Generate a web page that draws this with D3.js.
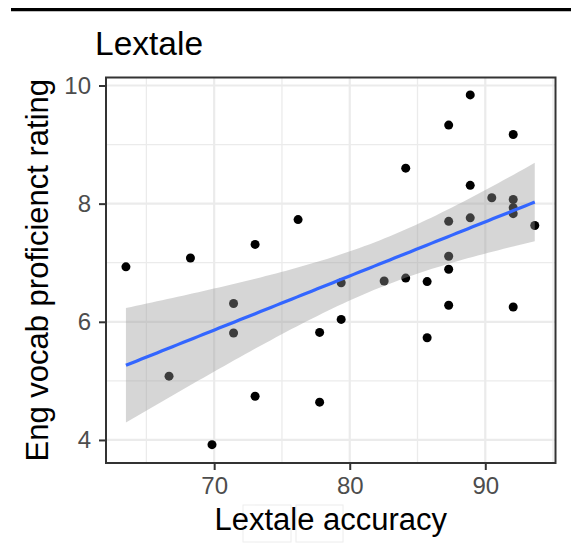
<!DOCTYPE html>
<html><head><meta charset="utf-8">
<script src="https://cdn.jsdelivr.net/npm/d3@7"></script>
<style>body{margin:0;background:#fff}svg{display:block}text{font-family:"Liberation Sans",Arial,Helvetica,sans-serif}</style>
</head><body><div id="chart"></div>
<script>
// Data
const lextaleAccuracy = [63.49,68.25,73.02,76.19,71.43,71.43,66.67,73.02,77.78,69.84,77.78,79.37,79.37,82.54,84.13,85.71,87.30,87.30,87.30,85.71,92.06,88.89,87.30,92.06,84.13,88.89,90.48,92.06,92.06,92.06,93.65,87.30,88.89];
const vocabRating    = [6.93,7.08,7.31,7.73,6.31,5.81,5.08,4.74,4.64,3.92,5.82,6.66,6.04,6.69,6.74,6.68,7.11,6.89,6.28,5.73,6.25,9.84,9.33,9.17,8.60,8.31,8.10,8.07,7.93,7.83,7.63,7.70,7.76];
const xTicks = [70,80,90];
const yTicks = [4,6,8,10];
const xMinor = [65,75,85,95];
const yMinor = [5,7,9];
const titleText = "Lextale";
const xTitle = "Lextale accuracy";
const yTitle = "Eng vocab proficienct rating";

const W = 571, H = 552;
const P = {left:106, right:555.5, top:77.5, bottom:463};
const svg = d3.select("#chart").append("svg").attr("width",W).attr("height",H);

const x = d3.scaleLinear().domain([62.02,95.18]).range([P.left,P.right]);
const y = d3.scaleLinear().domain([3.61,10.135]).range([P.bottom,P.top]);

// top rule
svg.append("line").attr("x1",11).attr("x2",W).attr("y1",9.7).attr("y2",9.7).attr("stroke","#000").attr("stroke-width",3.2);

// panel bg
svg.append("rect").attr("x",P.left).attr("y",P.top).attr("width",P.right-P.left).attr("height",P.bottom-P.top).attr("fill","#fff");

const g = svg.append("g");
// minor grid
g.selectAll(".vx").data(xMinor).join("line").attr("x1",d=>x(d)).attr("x2",d=>x(d)).attr("y1",P.top).attr("y2",P.bottom).attr("stroke","#ebebeb").attr("stroke-width",1.3);
g.selectAll(".hy").data(yMinor).join("line").attr("y1",d=>y(d)).attr("y2",d=>y(d)).attr("x1",P.left).attr("x2",P.right).attr("stroke","#ebebeb").attr("stroke-width",1.3);
// major grid
g.selectAll(".vX").data(xTicks).join("line").attr("x1",d=>x(d)).attr("x2",d=>x(d)).attr("y1",P.top).attr("y2",P.bottom).attr("stroke","#ebebeb").attr("stroke-width",2.2);
g.selectAll(".hY").data(yTicks).join("line").attr("y1",d=>y(d)).attr("y2",d=>y(d)).attr("x1",P.left).attr("x2",P.right).attr("stroke","#ebebeb").attr("stroke-width",2.2);

// points
const pts = lextaleAccuracy.map((v,i)=>({x:v,y:vocabRating[i]}));
svg.append("g").selectAll("circle").data(pts).join("circle")
  .attr("cx",d=>x(d.x)).attr("cy",d=>y(d.y)).attr("r",4.5).attr("fill","#000");

// linear fit with 95% CI (geom_smooth method = lm)
const n = pts.length;
const mx = d3.mean(pts,d=>d.x), my = d3.mean(pts,d=>d.y);
const sxx = d3.sum(pts,d=>(d.x-mx)**2);
const sxy = d3.sum(pts,d=>(d.x-mx)*(d.y-my));
const b = sxy/sxx, a = my-b*mx;
const rss = d3.sum(pts,d=>(d.y-(a+b*d.x))**2);
const s = Math.sqrt(rss/(n-2));
const tq = 2.0395; // t(0.975, df=31)
const [xmin,xmax] = d3.extent(pts,d=>d.x);
const grid = d3.range(80).map(i=>xmin+(xmax-xmin)*i/79);
const fit = grid.map(xv=>{const f=a+b*xv; const se=s*Math.sqrt(1/n+(xv-mx)**2/sxx); return {x:xv,f,lo:f-tq*se,hi:f+tq*se};});
svg.append("path").datum(fit).attr("fill","#999").attr("fill-opacity",0.4)
  .attr("d",d3.area().x(d=>x(d.x)).y0(d=>y(d.lo)).y1(d=>y(d.hi)));
svg.append("path").datum(fit).attr("fill","none").attr("stroke","#3366FF").attr("stroke-width",3.2)
  .attr("d",d3.line().x(d=>x(d.x)).y(d=>y(d.f)));

// panel border
svg.append("rect").attr("x",P.left).attr("y",P.top).attr("width",P.right-P.left).attr("height",P.bottom-P.top).attr("fill","none").attr("stroke","#333").attr("stroke-width",2);

// axes
const xAxis = svg.append("g").attr("transform",`translate(0,${P.bottom})`)
  .call(d3.axisBottom(x).tickValues(xTicks).tickSize(7).tickPadding(7).tickFormat(d3.format("d")));
const yAxis = svg.append("g").attr("transform",`translate(${P.left},0)`)
  .call(d3.axisLeft(y).tickValues(yTicks).tickSize(7).tickPadding(8).tickFormat(d3.format("d")));
[xAxis,yAxis].forEach(ax=>{
  ax.select(".domain").remove();
  ax.selectAll(".tick line").attr("stroke","#333").attr("stroke-width",2);
  ax.selectAll(".tick text").attr("fill","#4d4d4d").style("font-size","24px").style("font-family",'"Liberation Sans",Arial,sans-serif');
});

// faint thumbnail artifact under the x title
const art = svg.append("g").attr("opacity",0.35);
art.append("rect").attr("x",243).attr("y",505).attr("width",48).attr("height",37).attr("fill","none").attr("stroke","#ccc").attr("stroke-width",1);
art.append("rect").attr("x",296).attr("y",505).attr("width",47).attr("height",37).attr("fill","none").attr("stroke","#ccc").attr("stroke-width",1);

// titles
svg.append("text").attr("x",95).attr("y",55).text(titleText).style("font-size","33.5px").attr("fill","#000");
svg.append("text").attr("x",(P.left+P.right)/2).attr("y",530).attr("text-anchor","middle").text(xTitle).style("font-size","31px").attr("fill","#000");
svg.append("text").attr("transform",`translate(48,${(P.top+P.bottom)/2}) rotate(-90)`).attr("text-anchor","middle").text(yTitle).style("font-size","31px").attr("fill","#000");
</script></body></html>
